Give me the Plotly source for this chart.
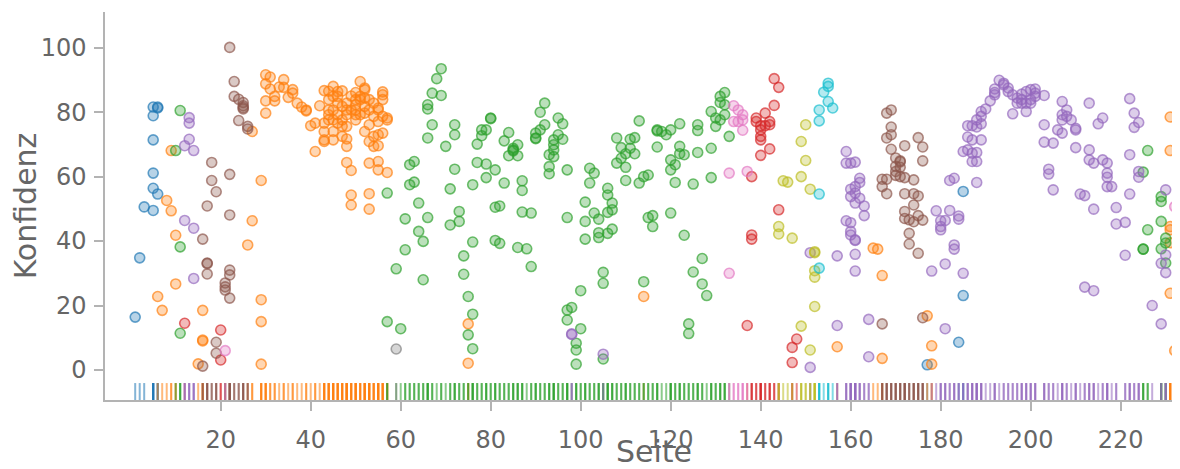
import plotly.graph_objects as go

# ---------------- data: (Seite, Konfidenz) per category ----------------
kategorien = ["Kategorie 1", "Kategorie 2", "Kategorie 3", "Kategorie 4", "Kategorie 5",
              "Kategorie 6", "Kategorie 7", "Kategorie 8", "Kategorie 9", "Kategorie 10"]
farben = ["#1f77b4", "#ff7f0e", "#2ca02c", "#d62728", "#9467bd",
          "#8c564b", "#e377c2", "#7f7f7f", "#bcbd22", "#17becf"]

punkte_blau = [(1, 16.4), (2, 34.8), (3, 50.6), (5, 49.5), (5, 56.4), (5, 61.1), (5, 71.4),
               (5, 78.9), (5, 81.6), (6, 81.6), (6, 81.3), (6, 54.6), (177, 1.6), (184, 8.6),
               (185, 23.1), (185, 55.4)]

punkte_orange = [
    (6, 22.8), (7, 18.5), (8, 52.6), (9, 49.4), (9, 68.1), (10, 41.8), (10, 26.7), (15, 1.9),
    (16, 18.5), (16, 9.3), (16, 9.0), (26, 38.8), (27, 46.3), (27, 74.0), (29, 58.8),
    (29, 21.8), (29, 15.0), (29, 1.8),
    (30, 91.6), (31, 90.9), (30, 88.8), (31, 87.2), (30, 83.5), (30, 79.7), (32, 83.5),
    (32, 84.9), (34, 90.1), (33, 87.8), (34, 87.7), (35, 84.6), (36, 87.0), (36, 85.9),
    (37, 82.8), (38, 81.6), (39, 80.7), (39, 80.4), (40, 75.8), (41, 76.6), (41, 67.8),
    (42, 82.0), (43, 86.7), (43, 76.6), (43, 71.4), (43, 70.9), (43, 74.0), (44, 83.9),
    (44, 80.7), (44, 79.2), (44, 77.6), (44, 86.5), (45, 88.0), (45, 84.9), (45, 80.7),
    (45, 77.6), (45, 74.0), (45, 71.4), (46, 86.4), (46, 84.9), (46, 82.8), (46, 79.2),
    (46, 76.6), (47, 81.8), (47, 77.6), (47, 75.6), (47, 72.5), (47, 86.6), (48, 82.8),
    (48, 80.7), (48, 79.2), (48, 75.6), (48, 71.7), (48, 69.4), (48, 64.4), (49, 85.0),
    (49, 80.7), (49, 61.9), (49, 54.3), (49, 51.2), (50, 83.9), (50, 82.3), (50, 80.7),
    (50, 79.2), (50, 77.6), (50, 86.1), (51, 89.5), (51, 84.9), (51, 83.9), (51, 79.2),
    (52, 87.0), (52, 87.5), (52, 84.4), (52, 81.8), (52, 79.7), (52, 74.0), (53, 83.9),
    (53, 80.7), (53, 76.1), (53, 70.9), (53, 64.2), (53, 54.7), (53, 49.9), (54, 82.8),
    (54, 78.7), (54, 72.5), (54, 69.4), (55, 81.3), (55, 80.7), (55, 77.1), (55, 73.0),
    (55, 69.6), (55, 64.7), (55, 62.1), (56, 86.3), (56, 85.4), (56, 83.9), (56, 78.7),
    (56, 73.5), (57, 78.2), (57, 77.6), (57, 61.3),
    (75, 14.3), (75, 2.1), (114, 22.8), (157, 7.2), (165, 37.8), (166, 37.5), (167, 29.3),
    (167, 3.6), (177, 16.8), (178, 7.5), (178, 1.8), (231, 78.5), (231, 68.1), (231, 44.5),
    (231, 43.5), (231, 39.5), (231, 23.8), (232, 6.0)]

punkte_gruen = [
    (10, 68.1), (11, 80.5), (11, 38.2), (11, 11.4),
    (57, 54.9), (57, 15.0), (59, 31.4), (60, 12.8), (61, 46.9), (61, 37.3),
    (62, 63.7), (63, 64.7), (62, 57.5), (63, 58.3), (64, 51.8), (66, 47.3), (64, 43.0),
    (65, 39.9), (65, 28.0),
    (69, 93.5), (68, 90.4), (67, 85.9), (69, 85.2), (66, 82.3), (66, 81.0), (67, 76.1),
    (66, 72.0), (70, 69.4), (72, 76.1), (72, 73.0), (72, 62.3), (71, 56.2), (73, 49.2),
    (73, 46.1), (71, 45.0),
    (74, 35.4), (74, 29.7), (75, 22.8), (76, 17.3), (75, 10.9), (76, 6.6),
    (76, 57.5), (77, 64.4), (79, 63.9), (81, 62.1), (79, 59.7), (77, 70.1), (78, 74.5),
    (79, 74.5), (80, 78.2), (80, 78.0), (78, 72.7), (76, 39.7),
    (83, 71.1), (84, 73.7), (85, 68.8), (85, 68.3), (85, 68.0), (86, 69.9), (84, 66.5),
    (86, 66.5), (83, 58.0), (87, 58.7), (87, 55.7), (81, 50.5), (82, 50.9), (87, 49.0),
    (89, 48.7), (81, 40.2), (82, 39.3), (86, 38.0), (88, 37.6), (89, 32.1),
    (90, 73.5), (90, 72.0), (90, 71.8), (91, 74.5), (91, 80.0), (92, 82.8), (92, 76.1),
    (95, 78.2), (96, 76.4), (95, 73.0), (94, 71.4), (96, 71.6), (94, 69.9), (93, 66.8),
    (94, 66.2), (94, 68.3), (93, 63.1), (93, 60.9), (97, 62.1), (97, 47.3),
    (97, 18.6), (98, 19.4), (97, 15.5), (100, 24.6), (100, 12.8), (99, 8.3), (99, 6.2),
    (99, 1.8),
    (101, 52.1), (102, 62.6), (103, 61.1), (102, 58.0), (101, 46.1), (103, 48.7),
    (104, 46.8), (106, 56.4), (106, 54.3), (107, 51.8), (107, 49.7), (106, 48.9),
    (104, 42.6), (104, 41.1), (101, 40.6), (106, 42.4), (107, 43.7), (105, 30.3),
    (105, 26.9), (105, 3.4),
    (108, 72.0), (109, 69.0), (111, 71.6), (112, 72.1), (111, 68.8), (110, 67.1),
    (109, 65.7), (108, 64.2), (110, 62.9), (112, 67.1), (110, 58.8), (113, 77.3),
    (113, 58.0), (114, 60.0), (115, 60.5), (115, 47.3), (116, 47.9), (116, 44.5),
    (114, 27.4),
    (117, 74.5), (117, 74.2), (118, 74.0), (119, 73.0), (120, 74.5), (117, 69.2),
    (122, 76.4), (122, 69.4), (120, 65.2), (122, 67.1), (121, 63.7), (120, 62.1),
    (121, 58.2), (120, 48.7),
    (123, 66.8), (125, 57.7), (126, 76.1), (126, 74.3), (126, 67.5), (129, 80.2),
    (129, 68.8), (129, 59.7), (130, 78.2), (130, 75.6), (131, 77.6), (131, 84.9),
    (132, 86.1), (131, 83.0), (132, 82.3), (132, 79.2), (133, 72.5), (123, 41.8),
    (127, 34.6), (125, 30.4), (127, 26.7), (128, 23.1), (124, 14.3), (124, 11.3),
    (225, 61.4), (226, 68.1), (229, 53.8), (229, 52.3), (229, 46.1), (226, 43.5),
    (230, 40.9), (230, 39.4), (229, 37.6), (230, 33.2), (225, 37.5), (225, 37.5)]

punkte_rot = [(12, 14.5), (20, 12.4), (20, 3.1), (143, 90.4), (144, 87.7), (143, 82.1),
              (141, 79.7), (139, 78.2), (139, 77.1), (140, 75.8), (141, 75.8), (142, 76.1),
              (142, 77.1), (140, 74.5), (140, 72.5), (140, 71.4), (142, 68.6), (140, 66.6),
              (138, 60.0), (144, 49.7), (138, 41.9), (138, 40.6), (137, 13.8), (148, 9.6),
              (147, 7.0), (147, 2.3)]

punkte_lila = [
    (13, 76.6), (13, 78.3), (13, 71.6), (12, 69.6), (14, 68.1), (12, 46.4), (14, 44.0),
    (14, 28.4), (98, 11.2), (98, 11.0), (105, 4.9),
    (151, 36.4), (151, 0.8), (157, 35.4), (157, 13.8), (159, 67.8), (159, 64.2), (160, 64.2),
    (161, 64.5), (162, 59.5), (162, 58.2), (161, 56.9), (160, 56.1), (161, 54.9), (160, 53.8),
    (162, 53.3), (161, 51.8), (163, 50.9), (163, 47.9), (159, 46.3), (160, 45.7), (160, 43.0),
    (160, 41.9), (161, 40.2), (161, 40.4), (161, 35.9), (161, 30.7), (164, 15.7), (164, 4.1),
    (180, 43.5), (183, 38.8), (183, 37.5), (181, 32.9), (178, 30.7), (185, 30.0), (181, 12.8),
    (212, 25.7), (214, 24.6), (221, 35.6), (227, 20.0), (229, 14.3), (230, 35.7), (229, 33.1),
    (230, 30.2),
    (193, 89.9), (194, 89.0), (192, 87.2), (192, 86.1), (192, 85.4), (194, 88.5), (195, 87.5),
    (195, 86.4), (196, 85.4), (197, 84.4), (198, 83.9), (197, 82.8), (198, 82.8), (198, 85.6),
    (199, 86.4), (200, 87.0), (201, 87.2), (201, 85.9), (201, 84.9), (200, 83.9), (200, 82.8),
    (199, 82.8), (199, 80.2), (196, 79.5), (203, 85.2), (191, 83.5), (190, 81.0), (189, 80.2),
    (189, 78.7), (188, 77.6), (189, 76.4), (188, 75.4), (187, 75.8), (186, 75.8), (186, 72.3),
    (187, 71.4), (189, 71.4), (186, 68.3), (185, 67.8), (187, 67.3), (188, 67.5), (187, 64.7),
    (188, 64.7), (183, 59.5), (182, 58.8), (188, 58.2), (179, 49.4), (182, 49.5), (180, 46.3),
    (180, 44.5), (181, 46.4), (184, 47.8), (184, 46.8),
    (207, 83.3), (208, 80.7), (207, 79.2), (208, 78.7), (207, 77.6), (209, 77.6), (203, 76.1),
    (206, 74.5), (207, 73.5), (210, 75.0), (210, 74.5), (203, 70.7), (205, 70.4), (210, 69.0),
    (213, 82.8), (216, 78.2), (215, 76.4), (222, 84.2), (223, 79.7), (224, 76.8), (223, 75.3),
    (213, 68.3), (213, 65.2), (214, 64.2), (216, 65.2), (217, 64.2), (217, 61.1), (217, 59.8),
    (217, 56.9), (218, 56.9), (204, 62.3), (204, 60.8), (205, 55.9), (211, 54.6), (212, 54.1),
    (214, 49.9), (219, 50.4), (219, 45.3), (221, 45.8), (222, 66.8), (224, 61.6), (224, 59.8),
    (222, 54.6), (230, 55.9)]

punkte_braun = [
    (16, 40.6), (17, 50.9), (18, 64.4), (18, 58.8), (19, 55.3), (17, 33.2), (17, 33.0),
    (17, 29.8), (16, 1.2), (19, 8.6), (19, 5.2), (22, 100.1), (23, 89.5), (23, 84.9),
    (24, 84.0), (25, 83.0), (25, 82.0), (25, 81.4), (25, 81.0), (24, 77.4), (26, 75.6),
    (26, 74.8), (22, 60.7), (22, 48.1), (21, 27.0), (21, 25.8), (21, 24.8), (22, 31.0),
    (22, 29.5), (22, 22.3),
    (168, 79.7), (169, 80.7), (169, 75.4), (168, 72.0), (169, 73.0), (169, 68.5), (172, 69.6),
    (175, 72.1), (170, 65.8), (171, 64.6), (170, 63.2), (171, 62.9), (170, 61.6), (170, 60.4),
    (171, 60.0), (172, 59.7), (167, 59.2), (168, 59.2), (167, 56.9), (168, 54.7), (172, 54.7),
    (174, 54.7), (174, 59.0), (172, 49.2), (174, 51.2), (173, 46.6), (174, 46.0), (175, 47.9),
    (173, 42.4), (173, 39.1), (176, 69.2), (176, 64.9), (171, 64.9), (175, 54.0), (176, 46.5),
    (172, 47.0), (175, 36.2), (176, 16.2), (167, 14.3)]

punkte_rosa = [(21, 6.0), (134, 82.0), (135, 80.7), (136, 79.2), (136, 77.6), (135, 77.1),
               (134, 77.1), (136, 74.4), (133, 61.1), (137, 61.6), (133, 30.0), (232, 50.7)]

punkte_grau = [(59, 6.5)]

punkte_oliv = [(150, 76.1), (149, 70.9), (150, 65.0), (149, 60.0), (145, 58.7), (146, 58.3),
               (151, 56.1), (144, 44.5), (144, 42.2), (147, 40.9), (152, 36.7), (152, 36.4),
               (152, 30.8), (152, 28.8), (152, 19.7), (149, 13.6), (151, 6.2)]

punkte_cyan = [(155, 89.0), (155, 88.0), (154, 86.2), (155, 83.3), (156, 81.3), (153, 80.7),
               (153, 77.3), (153, 54.6), (153, 31.6)]

serien = [punkte_blau, punkte_orange, punkte_gruen, punkte_rot, punkte_lila,
          punkte_braun, punkte_rosa, punkte_grau, punkte_oliv, punkte_cyan]

x_ticks = [20, 40, 60, 80, 100, 120, 140, 160, 180, 200, 220]
y_ticks = [0, 20, 40, 60, 80, 100]


def rgba(hexcol, a):
    h = hexcol.lstrip("#")
    r, g, b = int(h[0:2], 16), int(h[2:4], 16), int(h[4:6], 16)
    return f"rgba({r},{g},{b},{a})"


RUG_Y = -7.1

fig = go.Figure()
for name, col, pts in zip(kategorien, farben, serien):
    xs = [p[0] for p in pts]
    fig.add_trace(go.Scatter(
        x=xs, y=[RUG_Y] * len(xs), mode="markers", name=name, showlegend=False,
        hoverinfo="skip",
        marker=dict(symbol="line-ns", size=14,
                    line=dict(width=2, color=rgba(col, 0.55)))))
for name, col, pts in zip(kategorien, farben, serien):
    xs = [p[0] for p in pts]
    ys = [p[1] for p in pts]
    fig.add_trace(go.Scatter(
        x=xs, y=ys, mode="markers", name=name, showlegend=False,
        marker=dict(symbol="circle", size=10, color=rgba(col, 0.32),
                    line=dict(width=1.6, color=rgba(col, 0.68)))))

axis_common = dict(
    automargin=False,
    showgrid=False, zeroline=False, showline=True, linecolor="#b3b3b3", linewidth=1.5,
    ticks="outside", ticklen=9, tickwidth=1.5, tickcolor="#b3b3b3",
    tickfont=dict(size=24, color="#666666", family="DejaVu Sans"),
)

fig.update_layout(
    width=1200, height=461,
    margin=dict(l=97, r=5, t=4, b=69),
    paper_bgcolor="white", plot_bgcolor="white",
    showlegend=False,
    font=dict(family="DejaVu Sans", color="#666666"),
    xaxis=dict(range=[-5.71, 238.29], tickvals=x_ticks, ticklabelstandoff=8,
               title=dict(text="Seite", standoff=0,
                          font=dict(size=30, color="#666666")),
               **axis_common),
    yaxis=dict(range=[-9.32, 111.09], tickvals=y_ticks, ticklabelstandoff=3,
               title=dict(text="Konfidenz", standoff=5,
                          font=dict(size=30, color="#666666")),
               **axis_common),
)

fig.write_html("out.html", config={"displayModeBar": False})
